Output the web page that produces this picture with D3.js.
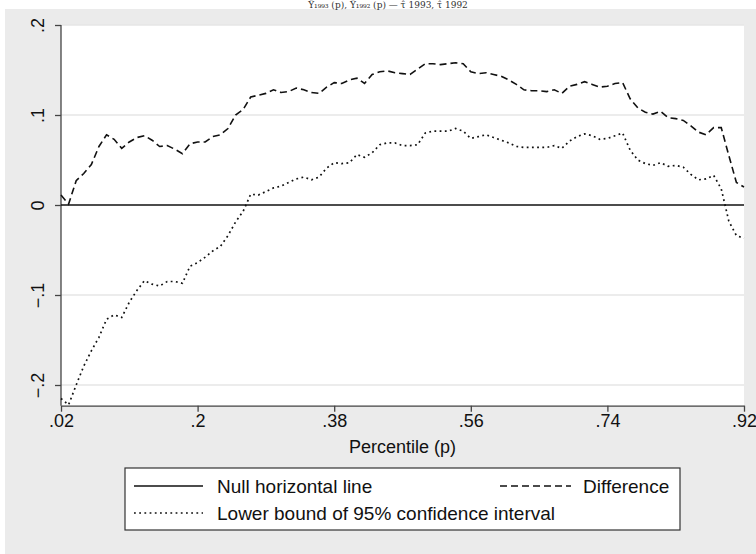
<!DOCTYPE html>
<html><head><meta charset="utf-8">
<script src="https://cdn.jsdelivr.net/npm/d3@7"></script>
<style>html,body{margin:0;padding:0;background:#fff;}svg{display:block;font-family:"Liberation Sans",Arial,Helvetica,sans-serif;}</style>
</head><body>
<svg id="c" width="756" height="554"></svg>
<script>
// ---- data ----
const percentiles = d3.range(91).map(i => +(0.02 + i * 0.01).toFixed(2));
const difference = [
 .011,.001,.027,.035,.045,.065,.078,.073,.063,.070,
 .075,.077,.072,.065,.066,.062,.057,.068,.070,.070,
 .076,.078,.085,.100,.106,.120,.122,.124,.128,.125,
 .126,.130,.128,.125,.124,.131,.136,.135,.139,.141,
 .135,.145,.148,.149,.147,.146,.145,.151,.157,.157,
 .156,.157,.158,.157,.148,.146,.147,.145,.143,.139,
 .134,.128,.127,.127,.126,.128,.124,.132,.134,.137,
 .134,.131,.132,.135,.136,.118,.108,.103,.101,.104,
 .097,.096,.094,.088,.081,.078,.086,.086,.055,.025,.020];
const lowerBound = [
 -.215,-.222,-.200,-.179,-.162,-.147,-.127,-.122,-.125,-.108,
 -.095,-.084,-.088,-.090,-.085,-.085,-.087,-.068,-.064,-.058,
 -.051,-.046,-.034,-.019,-.007,.012,.011,.015,.019,.021,
 .025,.029,.031,.028,.031,.041,.047,.046,.047,.056,
 .053,.058,.067,.069,.069,.066,.066,.067,.080,.082,
 .082,.082,.085,.082,.074,.076,.078,.075,.072,.069,
 .065,.064,.064,.064,.064,.066,.063,.071,.076,.079,
 .077,.073,.074,.077,.080,.061,.050,.046,.044,.047,
 .043,.044,.042,.034,.028,.029,.033,.018,-.018,-.034,-.037];
const nullLine = percentiles.map(() => 0);
const xTicks = [0.02, 0.2, 0.38, 0.56, 0.74, 0.92];
const xTickLabels = [".02", ".2", ".38", ".56", ".74", ".92"];
const yTicks = [0.2, 0.1, 0, -0.1, -0.2];
const yTickLabels = [".2", ".1", "0", "\u2212.1", "\u2212.2"];
const legendLabels = ["Null horizontal line", "Difference", "Lower bound of 95% confidence interval"];
const xTitle = "Percentile (p)";
const topTitle = "\u0176\u2081\u2089\u2089\u2083 (p), \u0176\u2081\u2089\u2089\u2082 (p) \u2014 \u03c4\u0302 1993, \u03c4\u0302 1992";

// ---- layout ----
const svg = d3.select("#c");
const L = 61, R = 744, T = 25, B = 405.7;
const x = d3.scaleLinear().domain([0.02, 0.92]).range([L, R]);
const y = d3.scaleLinear().domain([-0.223, 0.2]).range([B, T]);

svg.append("rect").attr("x",0).attr("y",0).attr("width",756).attr("height",554).attr("fill","#ffffff");
svg.append("rect").attr("x",5).attr("y",9).attr("width",751).attr("height",545).attr("fill","#ebebeb");
svg.append("text").attr("x",388).attr("y",8).attr("text-anchor","middle")
  .attr("font-size",9).attr("font-family","DejaVu Serif, serif").attr("fill","#333").text(topTitle);

svg.append("rect").attr("x",L).attr("y",T).attr("width",R-L).attr("height",B-T).attr("fill","#ffffff");

// gridlines
svg.append("g").selectAll("line").data(yTicks.filter(d => d !== 0)).join("line")
  .attr("x1",L).attr("x2",R).attr("y1",d=>y(d)).attr("y2",d=>y(d))
  .attr("stroke","#e6e6e6").attr("stroke-width",1.5);

// axes
const ax = svg.append("g").attr("transform",`translate(0,${B})`)
  .call(d3.axisBottom(x).tickValues(xTicks).tickFormat((d,i)=>xTickLabels[i]).tickSize(6).tickPadding(3).tickSizeOuter(0));
ax.select(".domain").attr("stroke","#444").attr("stroke-width",1.3);
ax.selectAll(".tick line").attr("stroke","#444").attr("stroke-width",1.3);
ax.selectAll("text").attr("font-size",18).attr("fill","#111").attr("font-family","Liberation Sans, Arial, sans-serif");

const ay = svg.append("g").attr("transform",`translate(${L},0)`)
  .call(d3.axisLeft(y).tickValues(yTicks).tickFormat((d,i)=>yTickLabels[i]).tickSize(6).tickSizeOuter(0));
ay.select(".domain").attr("stroke","#444").attr("stroke-width",1.3).attr("d",`M0,${T}V${B}`);
ay.selectAll(".tick line").attr("stroke","#444").attr("stroke-width",1.3);
ay.selectAll(".tick text").attr("font-size",18).attr("fill","#111")
  .attr("font-family","Liberation Sans, Arial, sans-serif")
  .attr("x",null).attr("dy",null).attr("text-anchor","middle")
  .attr("transform","translate(-22,0) rotate(-90)").attr("dominant-baseline","middle");

// series
const line = d3.line().x((d,i)=>x(percentiles[i])).y(d=>y(d));
svg.append("path").datum(nullLine).attr("d",line).attr("fill","none").attr("stroke","#111").attr("stroke-width",1.6);
svg.append("path").datum(difference).attr("d",line).attr("fill","none").attr("stroke","#111")
  .attr("stroke-width",1.6).attr("stroke-dasharray","7,4");
svg.append("path").datum(lowerBound).attr("d",line).attr("fill","none").attr("stroke","#111")
  .attr("stroke-width",1.7).attr("stroke-dasharray","1.8,3.4");

// x title
svg.append("text").attr("x",(L+R)/2).attr("y",453).attr("text-anchor","middle")
  .attr("font-size",18).attr("fill","#111").text(xTitle);

// legend
const lg = svg.append("g");
lg.append("rect").attr("x",125).attr("y",468).attr("width",555).attr("height",62)
  .attr("fill","#fff").attr("stroke","#333").attr("stroke-width",1.2);
const items = [
  {x1:134, x2:203, y:486, dash:null, tx:217, label:legendLabels[0]},
  {x1:500, x2:571, y:486, dash:"7,4", tx:583, label:legendLabels[1]},
  {x1:134, x2:203, y:513, dash:"1.8,3.4", tx:217, label:legendLabels[2]}
];
items.forEach(it => {
  lg.append("line").attr("x1",it.x1).attr("x2",it.x2).attr("y1",it.y).attr("y2",it.y)
    .attr("stroke","#111").attr("stroke-width",1.6).attr("stroke-dasharray",it.dash);
  lg.append("text").attr("x",it.tx).attr("y",it.y).attr("dy","0.35em")
    .attr("font-size",19).attr("fill","#111").text(it.label);
});
</script>
</body></html>
